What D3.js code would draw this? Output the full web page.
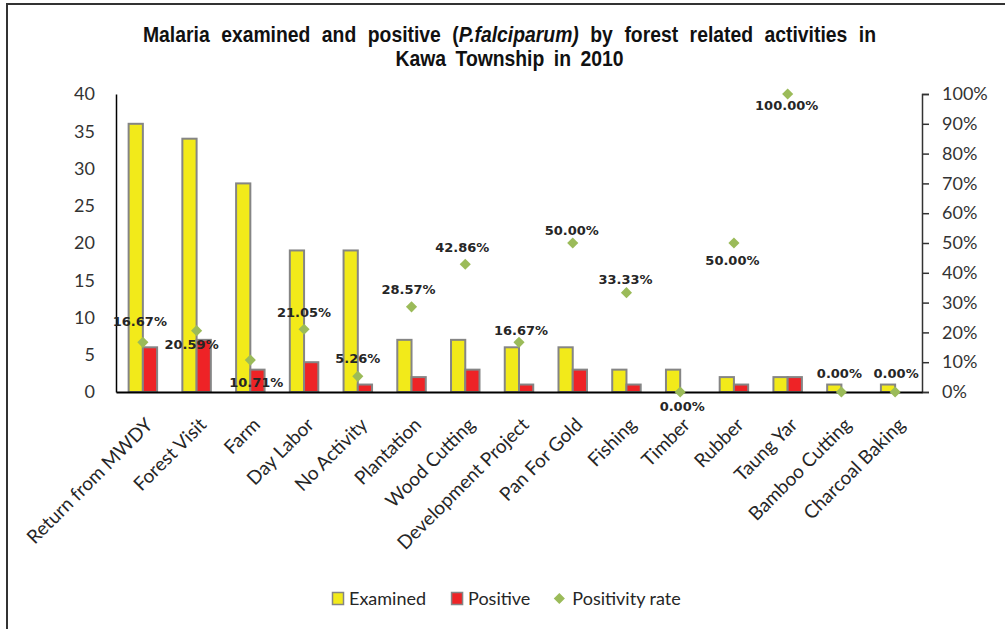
<!DOCTYPE html>
<html>
<head>
<meta charset="utf-8">
<script src="https://cdn.jsdelivr.net/npm/d3@7"></script>
<style>
    body { margin: 0; background: #fff; }
    .tick text { font-family: Lato, "Open Sans", sans-serif; font-size: 18px; fill: #333; }
    .rateLabel { font-family: "DejaVu Sans", sans-serif; font-weight: bold; font-size: 13px; fill: #262626; }
    .catLabel { font-family: Lato, "Open Sans", sans-serif; font-size: 19px; fill: #262626; }
    .legendText { font-family: Lato, "Open Sans", sans-serif; font-size: 18px; fill: #262626; }
    .title { font-family: "Liberation Sans", Arial, sans-serif; font-weight: bold; font-size: 21.5px; fill: #111; }
</style>
</head>
<body>
<script>
// chart values
var categories = ['Return from MWDY', 'Forest Visit', 'Farm', 'Day Labor', 'No Activity', 'Plantation',
    'Wood Cutting', 'Development Project', 'Pan For Gold', 'Fishing', 'Timber', 'Rubber', 'Taung Yar',
    'Bamboo Cutting', 'Charcoal Baking'];
var examined = [36, 34, 28, 19, 19, 7, 7, 6, 6, 3, 3, 2, 2, 1, 1];
var positive = [6, 7, 3, 4, 1, 2, 3, 1, 3, 1, 0, 1, 2, 0, 0];
var positivityRate = [16.67, 20.59, 10.71, 21.05, 5.26, 28.57, 42.86, 16.67, 50.00, 33.33, 0.00, 50.00, 100.00, 0.00, 0.00];
var seriesNames = ['Examined', 'Positive', 'Positivity rate'];
var leftTicks = [0, 5, 10, 15, 20, 25, 30, 35, 40];
var rightTicks = [0, 10, 20, 30, 40, 50, 60, 70, 80, 90, 100];

// where each rate label sits, relative to its diamond: [dx, dy of label centre]
var labelOffsets = [[-3, -21], [-5, 14], [6, 22], [0, -16.5], [0, -18.5], [-3, -17.7], [-3, -17.3],
    [2, -11.7], [-1, -12.3], [-1, -13.7], [2, 14], [-1.5, 17], [-1, 11], [-2, -18.3], [1, -18.3]];

window.onload = function () {
    var w = 1005,
        h = 629;

    var svg = d3.select('body')
        .append('svg')
        .attr('width', w)
        .attr('height', h);

    // frame of the original figure
    svg.append('rect')
        .attr('x', 7)
        .attr('y', 4)
        .attr('width', 1010)
        .attr('height', 640)
        .style('fill', 'none')
        .style('stroke', '#333')
        .style('stroke-width', 2);

    var left = 116, right = 922, top = 94, bottom = 392;

    var x0 = d3.scaleBand()
        .domain(categories)
        .range([left, right])
        .paddingInner(0.47)
        .paddingOuter(0.235);

    var x1 = d3.scaleBand()
        .domain(['Examined', 'Positive'])
        .range([0, x0.bandwidth()]);

    var yLeft = d3.scaleLinear().domain([0, 40]).range([bottom, top]);
    var yRight = d3.scaleLinear().domain([0, 100]).range([bottom, top]);

    var colors = { Examined: '#F2EA1A', Positive: '#EE2326' };

    var rows = categories.map(function (c, i) {
        return { cat: c, Examined: examined[i], Positive: positive[i], rate: positivityRate[i], i: i };
    });

    // bars
    ['Examined', 'Positive'].forEach(function (s) {
        svg.selectAll('.bar-' + s)
            .data(rows)
            .enter()
            .append('rect')
            .attr('class', 'bar-' + s)
            .attr('x', function (d) { return x0(d.cat) + x1(s); })
            .attr('width', x1.bandwidth())
            .attr('y', function (d) { return yLeft(d[s]); })
            .attr('height', function (d) { return bottom - yLeft(d[s]); })
            .style('fill', colors[s])
            .style('stroke', '#858585')
            .style('stroke-width', 2);
    });

    // axes
    var leftAxis = svg.append('g')
        .attr('class', 'axis')
        .attr('transform', 'translate(' + left + ',0)')
        .call(d3.axisLeft(yLeft).tickValues(leftTicks).tickSize(0).tickPadding(21));
    leftAxis.select('.domain').style('stroke', '#000').style('stroke-width', 1.5);

    var rightAxis = svg.append('g')
        .attr('class', 'axis')
        .attr('transform', 'translate(' + right + ',0)')
        .call(d3.axisRight(yRight).tickValues(rightTicks).tickSize(7).tickPadding(13)
            .tickFormat(function (d) { return d + '%'; }));
    rightAxis.selectAll('line, .domain').style('stroke', '#333').style('stroke-width', 1.5);

    var bottomAxis = svg.append('g')
        .attr('transform', 'translate(0,' + bottom + ')')
        .call(d3.axisBottom(x0).tickSize(0).tickFormat(''));
    bottomAxis.select('.domain').style('stroke', '#000').style('stroke-width', 2);

    // category labels
    svg.selectAll('.catLabel')
        .data(rows)
        .enter()
        .append('text')
        .attr('class', 'catLabel')
        .attr('text-anchor', 'end')
        .attr('transform', function (d) {
            var cx = x0(d.cat) + x0.bandwidth() / 2;
            return 'translate(' + (cx + 11) + ',' + 426 + ') rotate(-45)';
        })
        .text(function (d) { return d.cat; });

    // positivity rate diamonds
    var diamond = d3.symbol().type(d3.symbolSquare).size(62);
    svg.selectAll('.rate')
        .data(rows)
        .enter()
        .append('path')
        .attr('class', 'rate')
        .attr('d', diamond)
        .attr('transform', function (d) {
            return 'translate(' + (x0(d.cat) + x0.bandwidth() / 2) + ',' + yRight(d.rate) + ') rotate(45)';
        })
        .style('fill', '#9BBB59');

    var fmt = d3.format('.2f');
    svg.selectAll('.rateLabel')
        .data(rows)
        .enter()
        .append('text')
        .attr('class', 'rateLabel')
        .attr('text-anchor', 'middle')
        .attr('x', function (d) { return x0(d.cat) + x0.bandwidth() / 2 + labelOffsets[d.i][0]; })
        .attr('y', function (d) { return yRight(d.rate) + labelOffsets[d.i][1] + 4.7; })
        .text(function (d) { return fmt(d.rate) + '%'; });

    // title: slightly condensed bold glyphs, widened word gaps
    var squeeze = 0.9;
    function titleLine(y, width, build) {
        var g = svg.append('g')
            .attr('transform', 'translate(509.5,' + y + ') scale(' + squeeze + ',1)');
        var t = g.append('text').attr('class', 'title').attr('x', 0).attr('y', 0);
        build(t);
        var natural = t.node().getComputedTextLength();
        var spaces = t.text().split(' ').length - 1;
        t.style('word-spacing', Math.max(0, (width / squeeze - natural) / spaces) + 'px')
            .attr('text-anchor', 'middle');
    }
    titleLine(41.5, 733, function (t) {
        t.append('tspan').text('Malaria examined and positive (');
        t.append('tspan').style('font-style', 'italic').text('P.falciparum)');
        t.append('tspan').text(' by forest related activities in');
    });
    titleLine(65.5, 228, function (t) {
        t.text('Kawa Township in 2010');
    });

    // legend
    var legend = svg.append('g').attr('class', 'legend');
    var lx = 0;
    seriesNames.forEach(function (s, i) {
        var item = legend.append('g').attr('transform', 'translate(' + lx + ',0)');
        if (i < 2) {
            item.append('rect')
                .attr('x', 0.5)
                .attr('y', -6)
                .attr('width', 11)
                .attr('height', 12)
                .style('fill', colors[s])
                .style('stroke', '#858585')
                .style('stroke-width', 1.5);
        } else {
            item.append('path')
                .attr('d', diamond)
                .attr('transform', 'translate(4,0) rotate(45)')
                .style('fill', '#9BBB59');
        }
        var t = item.append('text')
            .attr('class', 'legendText')
            .attr('x', 17)
            .attr('y', 6)
            .text(s);
        lx += 17 + t.node().getComputedTextLength() + 25;
    });
    legend.attr('transform', 'translate(332,598.5)');
};
</script>
</body>
</html>
